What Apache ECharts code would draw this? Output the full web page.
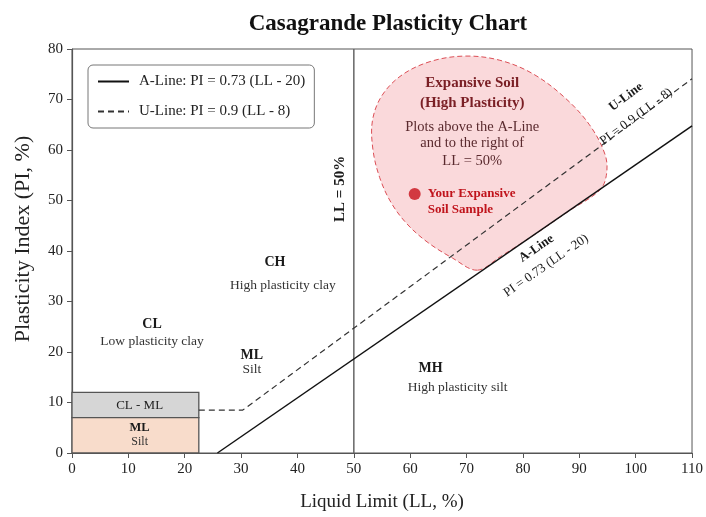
<!DOCTYPE html>
<html>
<head>
<meta charset="utf-8">
<title>Casagrande Plasticity Chart</title>
<script src="https://cdn.jsdelivr.net/npm/echarts@6/dist/echarts.min.js"></script>
<style>
  html, body { margin: 0; padding: 0; background: #ffffff; }
  #chart { width: 706px; height: 517px; }
</style>
</head>
<body>
<div id="chart"></div>
<script>
// Boundary lines as drawn, points are [LL, PI]
const aLine = [[25.8, 0], [110, 64.8]];
const uLine = [[22.5, 8.5], [30.3, 8.5], [110, 74.1]];
const llFiftyLine = [[50, 0], [50, 80]];

// Low-LL zones: [LL from, LL to, PI from, PI to]
const clmlZone = [0, 22.5, 7, 12];
const mlZone = [0, 22.5, 0, 7];

// Outline of the expansive-soil region (closed, lower edge follows the A-line)
const expansiveOutline = [
  [71.9, 36.2], [67.5, 38.6], [63.0, 41.8], [59.4, 45.4], [56.6, 49.6],
  [54.6, 54.5], [53.4, 60.0], [53.3, 65.8], [55.0, 70.8], [58.6, 74.9],
  [63.8, 77.6], [69.8, 78.6], [75.8, 77.8], [81.6, 75.2], [87.2, 70.6],
  [91.8, 65.0], [94.6, 59.0], [94.8, 55.0], [93.6, 52.0], [88.0, 47.8],
  [82.0, 43.2], [76.0, 38.9]
];

// Sample point [LL, PI]
const samplePoint = [[60.8, 51.3]];

// Series names shown in the legend
const aLineName = 'A-Line: PI = 0.73 (LL - 20)';
const uLineName = 'U-Line: PI = 0.9 (LL - 8)';

// Annotations: text, anchor [LL, PI], style key, rotation (deg)
const annotations = [
  ['CL', [14.2, 25.5], 'zone', 0],
  ['Low plasticity clay', [14.2, 22.0], 'desc', 0],
  ['CH', [36.0, 37.7], 'zone', 0],
  ['High plasticity clay', [37.4, 33.2], 'desc', 0],
  ['ML', [31.9, 19.4], 'zone', 0],
  ['Silt', [31.9, 16.5], 'desc', 0],
  ['MH', [63.6, 16.7], 'zone', 0],
  ['High plasticity silt', [68.4, 13.0], 'desc', 0],
  ['CL - ML', [12.0, 9.3], 'box', 0],
  ['ML', [12.0, 4.9], 'boxZone', 0],
  ['Silt', [12.0, 2.2], 'boxDesc', 0],
  ['LL = 50%', [47.6, 52.3], 'll', 90],
  ['U-Line', [98.3, 70.5], 'lineName', 36.6],
  ['PI = 0.9 (LL - 8)', [100.1, 66.6], 'lineEq', 36.6],
  ['A-Line', [82.4, 40.5], 'lineName', 34.8],
  ['PI = 0.73 (LL - 20)', [84.1, 37.1], 'lineEq', 34.8],
  ['Expansive Soil', [71.0, 73.3], 'expTitle', 0],
  ['(High Plasticity)', [71.0, 69.2], 'expTitle', 0],
  ['Plots above the A-Line', [71.0, 64.6], 'expText', 0],
  ['and to the right of', [71.0, 61.3], 'expText', 0],
  ['LL = 50%', [71.0, 57.8], 'expText', 0],
  ['Your Expansive', [63.1, 51.3], 'sample', 0],
  ['Soil Sample', [63.1, 48.1], 'sample', 0]
];

const SERIF = '"Liberation Serif", "DejaVu Serif", serif';
const textStyles = {
  zone:     { font: 'bold 14px ' + SERIF, fill: '#1a1a1a', align: 'center' },
  desc:     { font: '13.5px ' + SERIF, fill: '#333333', align: 'center' },
  box:      { font: '13px ' + SERIF, fill: '#222222', align: 'center' },
  boxZone:  { font: 'bold 12.5px ' + SERIF, fill: '#1a1a1a', align: 'center' },
  boxDesc:  { font: '12px ' + SERIF, fill: '#333333', align: 'center' },
  ll:       { font: 'bold 15px ' + SERIF, fill: '#1a1a1a', align: 'center' },
  lineName: { font: 'bold 13px ' + SERIF, fill: '#1a1a1a', align: 'center' },
  lineEq:   { font: '13px ' + SERIF, fill: '#1a1a1a', align: 'center' },
  expTitle: { font: 'bold 15px ' + SERIF, fill: '#7a1f25', align: 'center' },
  expText:  { font: '14.5px ' + SERIF, fill: '#5a2a2e', align: 'center' },
  sample:   { font: 'bold 13px ' + SERIF, fill: '#c0141c', align: 'left' }
};

const chart = echarts.init(document.getElementById('chart'), null, { renderer: 'canvas' });

function zoneRenderer(fill) {
  return function (params, api) {
    const tl = api.coord([api.value(0), api.value(3)]);
    const br = api.coord([api.value(1), api.value(2)]);
    return {
      type: 'rect',
      shape: { x: tl[0], y: tl[1], width: br[0] - tl[0], height: br[1] - tl[1] },
      style: { fill: fill, stroke: '#555555', lineWidth: 1.3 }
    };
  };
}

chart.setOption({
  animation: false,
  backgroundColor: '#ffffff',
  title: {
    text: 'Casagrande Plasticity Chart',
    left: 383,
    textAlign: 'center',
    top: 8,
    textStyle: { fontFamily: SERIF, fontSize: 23, fontWeight: 'bold', color: '#111111' }
  },
  legend: {
    data: [aLineName, uLineName],
    orient: 'vertical',
    left: 88,
    top: 65,
    padding: [9, 9, 9, 9],
    itemGap: 15,
    itemWidth: 31,
    itemHeight: 14,
    borderColor: '#777777',
    borderWidth: 1,
    borderRadius: 5,
    backgroundColor: '#ffffff',
    selectedMode: false,
    itemStyle: { opacity: 0 },
    textStyle: { fontFamily: SERIF, fontSize: 15, color: '#222222', padding: [0, 0, 0, 5] }
  },
  grid: {
    left: 72, right: 12, top: 49, bottom: 61,
    show: true, borderColor: '#555555', borderWidth: 1, backgroundColor: 'transparent'
  },
  xAxis: {
    type: 'value', min: 0, max: 110, interval: 10,
    name: 'Liquid Limit (LL, %)', nameLocation: 'middle', nameGap: 40,
    nameTextStyle: { fontFamily: SERIF, fontSize: 19, color: '#222222' },
    axisLine: { lineStyle: { color: '#555555', width: 1.2 } },
    axisTick: { length: 5, lineStyle: { color: '#555555' } },
    axisLabel: { fontFamily: SERIF, fontSize: 15, color: '#222222', margin: 9 },
    splitLine: { show: false }
  },
  yAxis: {
    type: 'value', min: 0, max: 80, interval: 10,
    name: 'Plasticity Index (PI, %)', nameLocation: 'middle', nameGap: 38,
    nameTextStyle: { fontFamily: SERIF, fontSize: 22, color: '#222222', padding: [0, 0, 0, 24] },
    axisLine: { show: true, lineStyle: { color: '#555555', width: 1.2 } },
    axisTick: { show: true, length: 5, lineStyle: { color: '#555555' } },
    axisLabel: { fontFamily: SERIF, fontSize: 15, color: '#222222', margin: 9 },
    splitLine: { show: false }
  },
  series: [
    {
      name: 'expansive', type: 'custom', z: 1, silent: true,
      data: [0],
      renderItem: function (params, api) {
        const pts = expansiveOutline.map(function (p) { return api.coord(p); });
        return {
          type: 'polygon',
          shape: { points: pts, smooth: 0.35 },
          style: { fill: 'rgba(236,120,124,0.28)', stroke: '#dc4f56', lineWidth: 1, lineDash: [5, 3] }
        };
      }
    },
    {
      name: 'clml', type: 'custom', z: 2, silent: true,
      data: [clmlZone], renderItem: zoneRenderer('#d6d6d6')
    },
    {
      name: 'ml', type: 'custom', z: 2, silent: true,
      data: [mlZone], renderItem: zoneRenderer('#f8dccb')
    },
    {
      name: 'LL = 50%', type: 'line', z: 3, data: llFiftyLine,
      symbol: 'none', silent: true,
      lineStyle: { color: '#666666', width: 1.5 }
    },
    {
      name: aLineName, type: 'line', z: 4, data: aLine,
      symbol: 'none', silent: true, color: '#111111',
      lineStyle: { color: '#111111', width: 1.5 }
    },
    {
      name: uLineName, type: 'line', z: 4, data: uLine,
      symbol: 'none', silent: true, color: '#333333',
      lineStyle: { color: '#333333', width: 1.2, type: [6, 4] }
    },
    {
      name: 'sample', type: 'scatter', z: 5, data: samplePoint,
      symbol: 'circle', symbolSize: 12, silent: true,
      itemStyle: { color: '#c8101a' }
    },
    {
      name: 'annotations', type: 'custom', z: 6, silent: true,
      data: annotations.map(function (a, i) { return i; }),
      renderItem: function (params, api) {
        const a = annotations[params.dataIndex];
        const p = api.coord(a[1]);
        const s = textStyles[a[2]];
        return {
          type: 'text',
          x: p[0], y: p[1],
          rotation: a[3] * Math.PI / 180,
          style: {
            text: a[0], x: 0, y: 0,
            font: s.font, fill: s.fill,
            align: s.align, verticalAlign: 'middle'
          }
        };
      }
    }
  ]
});
</script>
</body>
</html>
